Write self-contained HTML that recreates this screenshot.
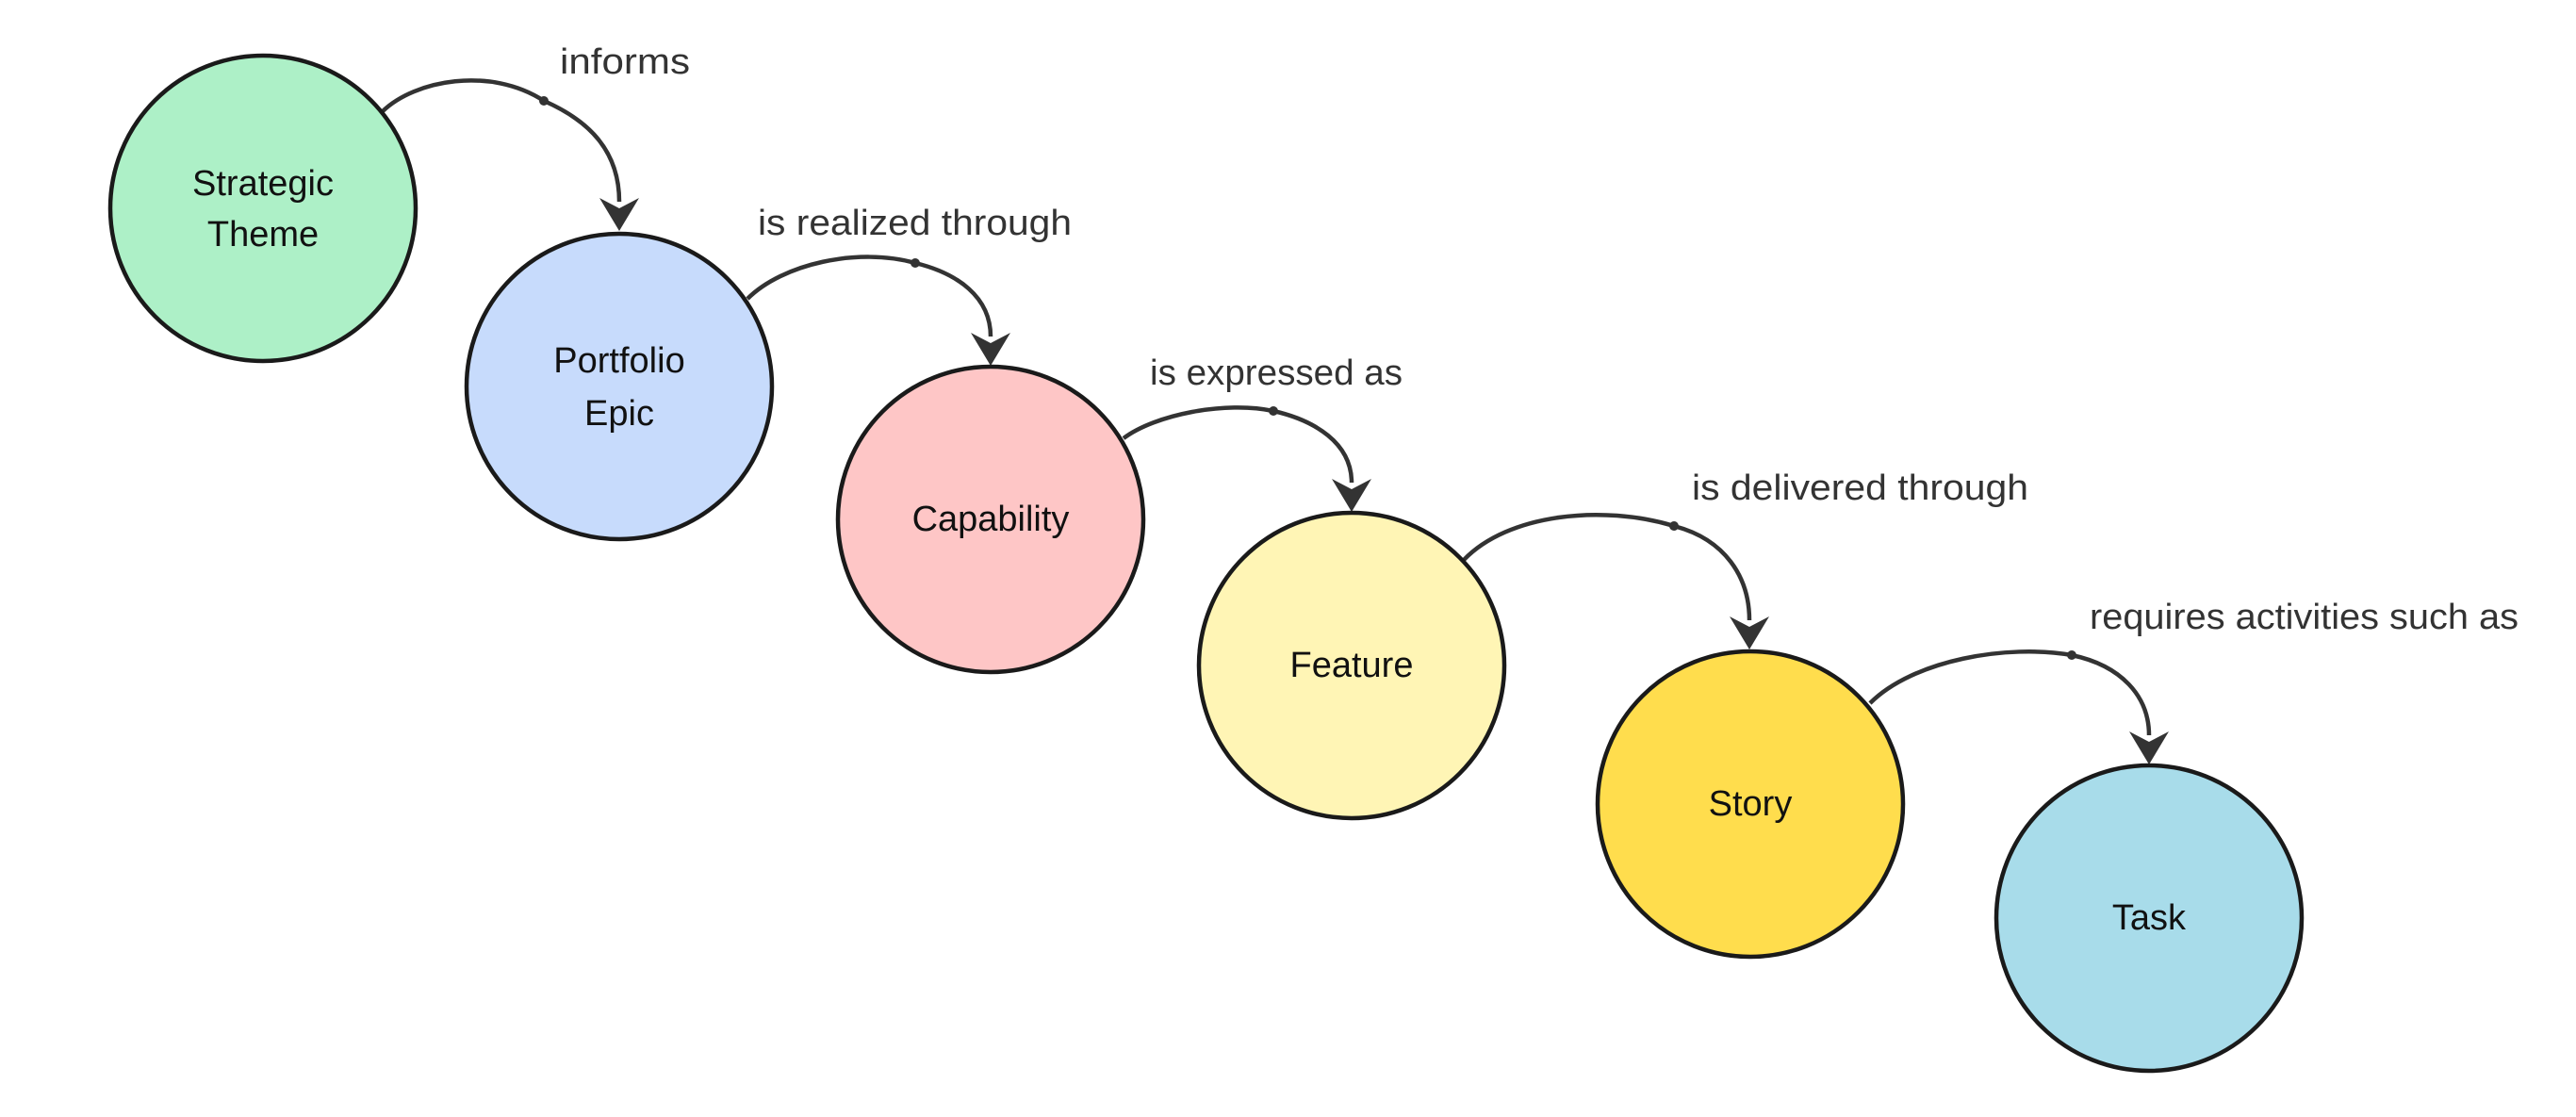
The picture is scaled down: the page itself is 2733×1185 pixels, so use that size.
<!DOCTYPE html>
<html><head><meta charset="utf-8"><style>html,body{margin:0;padding:0;background:#fff}svg{display:block}</style></head>
<body>
<svg width="2733" height="1185" viewBox="0 0 2733 1185" xmlns="http://www.w3.org/2000/svg" font-family="'Liberation Sans', sans-serif">
<g fill="none" stroke="#333" stroke-width="4.5">
<path d="M406,118 C440,85 520,70 577,107 C625,128 657,160 657,214"/>
<path d="M793,317 C830,280 910,262 971,279 C1016,290 1051,315 1051,357"/>
<path d="M1192,465 C1225,440 1300,425 1351,436 C1395,446 1434,470 1434,512"/>
<path d="M1553,594 C1600,545 1700,535 1776,558 C1830,572 1856,612 1856,658"/>
<path d="M1984,746 C2030,700 2130,683 2198,695 C2250,706 2280,738 2280,780"/>
</g>
<g fill="#333">
<circle cx="577" cy="107" r="5"/><circle cx="971" cy="279" r="5"/><circle cx="1351" cy="436" r="5"/><circle cx="1776" cy="558" r="5"/><circle cx="2198" cy="695" r="5"/>
<polygon points="657,245 636,210 657,221 678,210"/>
<polygon points="1051,388 1030,353 1051,364 1072,353"/>
<polygon points="1434,543 1413,508 1434,519 1455,508"/>
<polygon points="1856,689 1835,654 1856,665 1877,654"/>
<polygon points="2280,811 2259,776 2280,787 2301,776"/>
</g>
<g stroke="#1a1a1a" stroke-width="4.5">
<circle cx="279" cy="221" r="162" fill="#adf0c7"/>
<circle cx="657" cy="410" r="162" fill="#c7dbfc"/>
<circle cx="1051" cy="551" r="162" fill="#fec6c6"/>
<circle cx="1434" cy="706" r="162" fill="#fff5b5"/>
<circle cx="1857" cy="853" r="162" fill="#ffdd4d"/>
<circle cx="2280" cy="974" r="162" fill="#a8dcea"/>
</g>
<g font-size="38" fill="#111" text-anchor="middle" dominant-baseline="central">
<text x="279" y="195">Strategic</text><text x="279" y="249">Theme</text>
<text x="657" y="383">Portfolio</text><text x="657" y="439">Epic</text>
<text x="1051" y="551">Capability</text>
<text x="1434" y="706">Feature</text>
<text x="1857" y="853">Story</text>
<text x="2280" y="974">Task</text>
</g>
<g font-size="38" fill="#333" dominant-baseline="central">
<text x="594" y="66" textLength="138" lengthAdjust="spacingAndGlyphs">informs</text>
<text x="804" y="237" textLength="333" lengthAdjust="spacingAndGlyphs">is realized through</text>
<text x="1220" y="396" textLength="268" lengthAdjust="spacingAndGlyphs">is expressed as</text>
<text x="1795" y="518" textLength="357" lengthAdjust="spacingAndGlyphs">is delivered through</text>
<text x="2217" y="655" textLength="455" lengthAdjust="spacingAndGlyphs">requires activities such as</text>
</g>
</svg>
</body></html>
